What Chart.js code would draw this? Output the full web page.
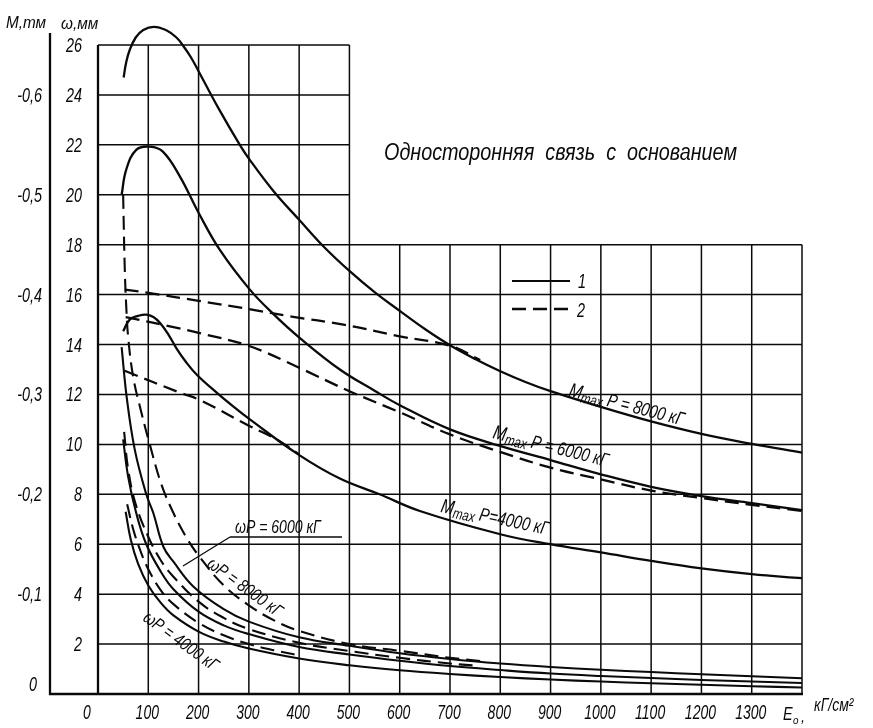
<!DOCTYPE html>
<html>
<head>
<meta charset="utf-8">
<script src="https://cdn.jsdelivr.net/npm/chart.js@4.4.1/dist/chart.umd.min.js"></script>
<style>
  html, body { margin: 0; padding: 0; background: #fff; }
</style>
</head>
<body>
<canvas id="plate" width="873" height="728"></canvas>
<script>
// axis ticks
const eTicks = [0, 100, 200, 300, 400, 500, 600, 700, 800, 900, 1000, 1100, 1200, 1300];
const wTicks = [2, 4, 6, 8, 10, 12, 14, 16, 18, 20, 22, 24, 26];
const mTicks = [0, -0.1, -0.2, -0.3, -0.4, -0.5, -0.6];

// Mmax curves, read on the ω scale (1 mm = 0.025 тм)
const mmax8000E = [51, 56, 63, 75, 90, 111, 135, 156, 170, 185, 200, 240, 282, 300, 350, 400, 450, 500, 550, 600, 650, 700, 750, 800, 850, 900, 1000, 1100, 1200, 1300, 1400];
const mmax8000 = [24.7, 25.3, 25.8, 26.3, 26.6, 26.73, 26.6, 26.3, 25.95, 25.5, 24.95, 23.45, 22.0, 21.45, 20.12, 19.0, 17.9, 16.95, 16.1, 15.35, 14.62, 13.97, 13.42, 12.93, 12.5, 12.13, 11.5, 10.92, 10.42, 10.02, 9.67];
const mmax8000dE = [53, 100, 200, 300, 385, 488, 600, 700, 760];
const mmax8000d = [16.2, 16.07, 15.75, 15.42, 15.12, 14.8, 14.33, 13.95, 13.38];

const mmax6000E = [47, 56, 76, 103, 129, 163, 200, 242, 302, 350, 401, 481, 550, 602, 700, 801, 900, 1000, 1100, 1200, 1300, 1400];
const mmax6000 = [20.0, 21.0, 21.8, 21.93, 21.73, 20.73, 19.28, 17.8, 16.2, 15.2, 14.27, 13.0, 12.15, 11.55, 10.6, 9.93, 9.37, 8.8, 8.3, 7.93, 7.65, 7.37];
const mmax6000dE = [55, 143, 200, 302, 400, 500, 602, 700, 801, 900, 1000, 1100, 1200, 1300, 1400];
const mmax6000d = [15.1, 14.73, 14.47, 13.93, 13.07, 12.13, 11.27, 10.4, 9.69, 9.07, 8.6, 8.15, 7.85, 7.58, 7.33];

const mmax4000E = [50, 63, 80, 96, 110, 123, 140, 156, 175, 196, 236, 270, 302, 398, 481, 560, 640, 800, 899, 1000, 1100, 1200, 1300, 1400];
const mmax4000 = [14.53, 15.0, 15.15, 15.2, 15.1, 14.87, 14.4, 13.85, 13.3, 12.8, 12.07, 11.5, 11.0, 9.6, 8.63, 8.0, 7.33, 6.4, 6.0, 5.67, 5.33, 5.03, 4.8, 4.64];
const mmax4000dE = [53, 163, 200, 302, 355, 400];
const mmax4000d = [12.95, 12.07, 11.8, 10.73, 10.2, 9.6];

// deflection ω, mm
const w4000E = [55, 65, 80, 100, 125, 150, 200, 250, 300, 400, 500, 600, 700, 800, 900, 1000, 1100, 1200, 1300, 1400];
const w4000 = [7.3, 6.2, 5.2, 4.35, 3.65, 3.15, 2.5, 2.1, 1.82, 1.42, 1.15, 0.95, 0.8, 0.68, 0.58, 0.5, 0.43, 0.37, 0.31, 0.26];
const w4000dE = [58, 70, 85, 100, 125, 150, 200, 250, 300, 350, 400];
const w4000d = [7.6, 6.6, 5.7, 5.0, 4.15, 3.6, 2.85, 2.35, 2.0, 1.75, 1.55];

const w6000E = [50, 60, 76, 96, 125, 150, 200, 250, 300, 400, 500, 600, 700, 800, 900, 1000, 1100, 1200, 1300, 1400];
const w6000 = [10.2, 8.7, 7.25, 6.0, 4.9, 4.2, 3.3, 2.75, 2.4, 1.88, 1.58, 1.33, 1.12, 0.96, 0.82, 0.72, 0.64, 0.56, 0.5, 0.44];
const w6000dE = [52, 60, 75, 100, 125, 150, 200, 250, 300, 400, 500, 600, 700, 750];
const w6000d = [10.5, 9.0, 7.6, 6.3, 5.35, 4.7, 3.7, 3.05, 2.6, 2.05, 1.72, 1.45, 1.22, 1.14];

const w8000E = [47, 57, 73, 96, 110, 130, 150, 190, 250, 300, 400, 500, 600, 700, 800, 900, 1000, 1100, 1200, 1300, 1400];
const w8000 = [13.9, 11.9, 9.8, 8.0, 7.25, 5.9, 5.3, 4.3, 3.4, 2.9, 2.27, 1.93, 1.63, 1.4, 1.22, 1.08, 0.97, 0.88, 0.79, 0.71, 0.63];
const w8000dE = [50, 53, 56, 60, 70, 86, 103, 126, 150, 175, 200, 250, 300, 350, 400, 500, 600, 700, 760];
const w8000d = [20.0, 17.2, 15.6, 14.3, 12.7, 11.3, 10.0, 8.4, 7.25, 6.3, 5.55, 4.35, 3.55, 2.95, 2.53, 2.0, 1.73, 1.45, 1.32];

const INK = '#0a0a0a';
const DASH = [14, 7];

function pts(es, ws) {
    return es.map((e, i) => ({ x: e, y: ws[i] }));
}

function curve(es, ws, dashed, width) {
    return {
        data: pts(es, ws),
        borderColor: INK,
        borderWidth: width || 2.1,
        borderDash: dashed ? DASH : [],
        pointRadius: 0,
        fill: false,
        clip: false,
        tension: 0.4
    };
}

// italic text, squeezed horizontally like a drafting hand
function txt(ctx, s, x, y, size, sx, align) {
    ctx.save();
    ctx.translate(x, y);
    ctx.scale(sx, 1);
    ctx.font = 'italic ' + size + 'px "Liberation Sans"';
    ctx.textAlign = align || 'left';
    ctx.textBaseline = 'alphabetic';
    ctx.fillStyle = INK;
    ctx.fillText(s, 0, 0);
    ctx.restore();
}

// a rotated run of text pieces: [text, size, dy]
function run(ctx, x, y, deg, sx, parts) {
    ctx.save();
    ctx.translate(x, y);
    ctx.rotate(deg * Math.PI / 180);
    ctx.scale(sx, 1);
    ctx.fillStyle = INK;
    ctx.textBaseline = 'alphabetic';
    let cx = 0;
    parts.forEach(([t, size, dy]) => {
        ctx.font = 'italic ' + size + 'px "Liberation Sans"';
        ctx.fillText(t, cx, dy || 0);
        cx += ctx.measureText(t).width;
    });
    ctx.restore();
}

function line(ctx, x1, y1, x2, y2, w, dash) {
    ctx.save();
    ctx.strokeStyle = INK;
    ctx.lineWidth = w;
    ctx.setLineDash(dash || []);
    ctx.beginPath();
    ctx.moveTo(x1, y1);
    ctx.lineTo(x2, y2);
    ctx.stroke();
    ctx.restore();
}

const paper = {
    id: 'paper',
    beforeDatasetsDraw(chart) {
        const ctx = chart.ctx;
        const xs = chart.scales.x, ys = chart.scales.y;
        const X = v => xs.getPixelForValue(v), Y = v => ys.getPixelForValue(v);
        // lower field runs the full width, upper field stops at E0 = 500
        for (let e = 0; e <= 1400; e += 100) {
            const top = e <= 500 ? 26 : 18;
            line(ctx, X(e), Y(0), X(e), Y(top), e === 0 ? 2.3 : 1.5);
        }
        for (let w = 2; w <= 26; w += 2) {
            line(ctx, X(0), Y(w), X(w <= 18 ? 1400 : 500), Y(w), 1.5);
        }
        // M axis and base line
        line(ctx, 50, 33, 50, Y(0) + 1, 2.3);
        line(ctx, 49, Y(0), X(1400) + 1, Y(0), 2.7);
    },
    afterDatasetsDraw(chart) {
        const ctx = chart.ctx;
        const xs = chart.scales.x, ys = chart.scales.y, ms = chart.scales.m;
        const X = v => xs.getPixelForValue(v), Y = v => ys.getPixelForValue(v);

        wTicks.forEach(w => txt(ctx, String(w), 82, Y(w) + 7, 20, 0.72, 'right'));
        mTicks.forEach(m => {
            const s = m === 0 ? '0' : '-' + Math.abs(m).toFixed(1).replace('.', ',');
            txt(ctx, s, m === 0 ? 37 : 42, ms.getPixelForValue(m) + (m === 0 ? -3 : 7), 20, 0.72, 'right');
        });
        eTicks.forEach(e => txt(ctx, String(e), X(e) - (e === 0 ? 11 : 1), 719, 20, 0.7, 'center'));

        txt(ctx, 'M,тм', 6, 28, 17, 0.9);
        txt(ctx, 'ω,мм', 61, 29, 17, 0.9);
        txt(ctx, 'E', 783, 720, 18, 0.8);
        txt(ctx, 'o', 793, 724, 11, 0.9);
        txt(ctx, ',', 801, 722, 16, 0.9);
        txt(ctx, 'кГ/см²', 814, 711, 18, 0.78);

        txt(ctx, 'Односторонняя  связь  с  основанием', 384, 160, 23, 0.86);

        // legend
        line(ctx, 512, 281, 570, 281, 2.1);
        line(ctx, 512, 309, 572, 309, 2.3, DASH);
        txt(ctx, '1', 578, 288, 20, 0.72);
        txt(ctx, '2', 577, 317, 20, 0.72);

        // curve names
        run(ctx, 568, 396, 14.5, 0.78, [['M', 20], ['max', 15, 3], [' P = 8000 кГ', 19]]);
        run(ctx, 492, 438, 14, 0.78, [['M', 20], ['max', 15, 3], [' P = 6000 кГ', 19]]);
        run(ctx, 440, 512, 12, 0.78, [['M', 20], ['max', 15, 3], [' P=4000 кГ', 19]]);

        txt(ctx, 'ωP = 6000 кГ', 235, 533, 18, 0.78);
        line(ctx, 230, 537, 342, 537, 1.3);
        line(ctx, 230, 537, 183, 566, 1.3);
        run(ctx, 206, 566, 36, 0.8, [['ωP = 8000 кГ', 18]]);
        run(ctx, 142, 620, 36, 0.8, [['ωP = 4000 кГ', 18]]);
    }
};

new Chart(document.getElementById('plate'), {
    type: 'line',
    data: {
        datasets: [
            curve(mmax8000E, mmax8000, false, 2.3),
            curve(mmax8000dE, mmax8000d, true, 2.3),
            curve(mmax6000E, mmax6000, false, 2.3),
            curve(mmax6000dE, mmax6000d, true, 2.3),
            curve(mmax4000E, mmax4000, false, 2.3),
            curve(mmax4000dE, mmax4000d, true, 2.3),
            curve(w4000E, w4000, false),
            curve(w4000dE, w4000d, true),
            curve(w6000E, w6000, false),
            curve(w6000dE, w6000d, true),
            curve(w8000E, w8000, false),
            curve(w8000dE, w8000d, true)
        ]
    },
    options: {
        responsive: false,
        animation: false,
        devicePixelRatio: 1,
        layout: { padding: { left: 98, right: 71, top: 45, bottom: 34 } },
        plugins: { legend: { display: false }, tooltip: { enabled: false } },
        scales: {
            x: { type: 'linear', min: 0, max: 1400, display: false },
            y: { type: 'linear', min: 0, max: 26, display: false },
            m: { type: 'linear', axis: 'y', min: -0.65, max: 0, reverse: true, display: false }
        }
    },
    plugins: [paper]
});
</script>
</body>
</html>
